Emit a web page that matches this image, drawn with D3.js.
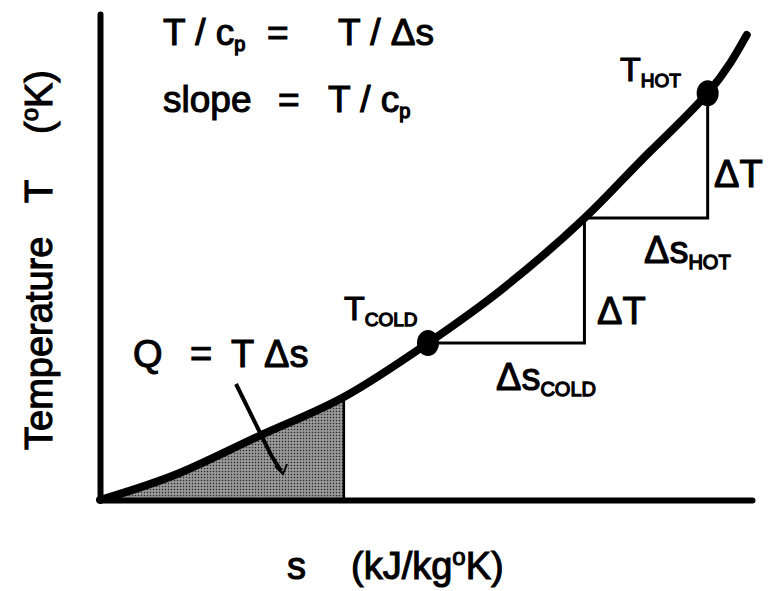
<!DOCTYPE html>
<html>
<head>
<meta charset="utf-8">
<script src="https://cdn.jsdelivr.net/npm/d3@7"></script>
<style>
  body { margin: 0; background: #fff; }
  text { font-family: "Liberation Sans", Arial, sans-serif; fill: #000; stroke: #000; stroke-width: 1.1px; white-space: pre; }
</style>
</head>
<body>
<svg id="ts" width="770" height="591"></svg>
<script>
(function() {
  // curve (s, T in arbitrary units)
  var curveS = [0, 1.23, 2.51, 3.74, 5.03, 6.15, 7.43, 8.31, 9.32, 9.92];
  var curveT = [0, 0.56, 1.36, 2.12, 3.23, 4.32, 5.80, 7.00, 8.37, 9.57];

  var shadeEnd = 3.74;               // right edge of the shaded Q area
  var markS = [5.03, 9.32];          // T cold, T hot
  var markT = [3.23, 8.37];
  var stepS = 7.43, stepT = 5.80;    // corner where the two steps meet

  var svg = d3.select("#ts");

  var x = d3.scaleLinear().domain([0, 10]).range([100, 752]);
  var y = d3.scaleLinear().domain([0, 10]).range([500, 14]);

  var pts = curveS.map(function(s, i) { return [s, curveT[i]]; });

  var line = d3.line()
    .x(function(d) { return x(d[0]); })
    .y(function(d) { return y(d[1]); })
    .curve(d3.curveNatural);

  var area = d3.area()
    .x(function(d) { return x(d[0]); })
    .y0(y(0))
    .y1(function(d) { return y(d[1]); })
    .curve(d3.curveNatural);

  // stipple pattern for the shaded area
  var defs = svg.append("defs");
  var pat = defs.append("pattern").attr("id", "stip")
    .attr("width", 3).attr("height", 3).attr("patternUnits", "userSpaceOnUse");
  pat.append("rect").attr("width", 3).attr("height", 3).attr("fill", "#848484");
  pat.append("rect").attr("width", 1).attr("height", 1).attr("fill", "#2a2a2a");
  pat.append("rect").attr("x", 1.5).attr("y", 1.5).attr("width", 1).attr("height", 1).attr("fill", "#d8d8d8");

  defs.append("clipPath").attr("id", "shadeClip")
    .append("rect")
      .attr("x", x(0)).attr("y", 0)
      .attr("width", x(shadeEnd) - x(0)).attr("height", y(0));

  svg.append("path")
    .datum(pts)
    .attr("d", area)
    .attr("clip-path", "url(#shadeClip)")
    .attr("fill", "url(#stip)");

  // right edge of the shaded area
  svg.append("line")
    .attr("x1", x(shadeEnd)).attr("x2", x(shadeEnd))
    .attr("y1", y(0)).attr("y2", y(2.12))
    .attr("stroke", "#000").attr("stroke-width", 2.5);

  // axes, no ticks
  svg.append("g")
    .attr("transform", "translate(0," + y(0) + ")")
    .call(d3.axisBottom(x).ticks(0).tickSizeOuter(0))
    .call(function(g) { g.select(".domain").attr("stroke-width", 6).attr("stroke-linecap", "round"); });
  svg.append("g")
    .attr("transform", "translate(" + x(0) + ",0)")
    .call(d3.axisLeft(y).ticks(0).tickSizeOuter(0))
    .call(function(g) { g.select(".domain").attr("stroke-width", 6).attr("stroke-linecap", "round"); });

  // step lines
  var steps = [
    [[markS[0], markT[0]], [stepS, markT[0]], [stepS, stepT]],
    [[stepS, stepT], [markS[1], stepT], [markS[1], markT[1]]]
  ];
  svg.selectAll(".step")
    .data(steps)
    .join("path")
      .attr("class", "step")
      .attr("d", d3.line().x(function(d) { return x(d[0]); }).y(function(d) { return y(d[1]); }))
      .attr("fill", "none")
      .attr("stroke", "#000")
      .attr("stroke-width", 3);

  // the curve
  svg.append("path")
    .datum(pts)
    .attr("d", line)
    .attr("fill", "none")
    .attr("stroke", "#000")
    .attr("stroke-width", 8)
    .attr("stroke-linecap", "round");

  // dots
  svg.selectAll(".dot")
    .data(markS)
    .join("ellipse")
      .attr("class", "dot")
      .attr("cx", function(d) { return x(d); })
      .attr("cy", function(d, i) { return y(markT[i]); })
      .attr("rx", 11).attr("ry", 13)
      .attr("fill", "#000");

  // leader line for Q
  svg.append("path")
    .attr("d", "M236,384 L271,455 L281,471")
    .attr("fill", "none").attr("stroke", "#000").attr("stroke-width", 4);
  svg.append("path")
    .attr("d", "M275,466 L283,474 L287,464")
    .attr("fill", "none").attr("stroke", "#000").attr("stroke-width", 2);

  // labels
  function label(px, py, main, sub, size, subSize) {
    var t = svg.append("text").attr("x", px).attr("y", py)
      .style("font-size", size + "px");
    t.append("tspan").text(main);
    if (sub) t.append("tspan").attr("dy", 6).style("font-size", subSize + "px").style("stroke-width", "1.3px").text(sub);
    return t;
  }

  var t1 = svg.append("text").attr("y", 45).style("font-size", "37px");
  t1.append("tspan").attr("x", 163).text("T / c");
  t1.append("tspan").attr("dy", 6).style("font-size", "20px").style("stroke-width", "1.3px").text("p");
  t1.append("tspan").attr("x", 267).attr("dy", -6).text("=");
  t1.append("tspan").attr("x", 338).text("T / \u0394s");

  var t2 = svg.append("text").attr("y", 112).style("font-size", "37px");
  t2.append("tspan").attr("x", 163).text("slope");
  t2.append("tspan").attr("x", 278).text("=");
  t2.append("tspan").attr("x", 328).text("T / c");
  t2.append("tspan").attr("dy", 6).style("font-size", "20px").style("stroke-width", "1.3px").text("p");

  label(620, 81, "T", "HOT", 34, 19);
  label(344, 320, "T", "COLD", 34, 19);
  label(714, 187, "\u0394T", null, 38);
  label(597, 324, "\u0394T", null, 38);
  label(644, 263, "\u0394s", "HOT", 38, 20);
  label(496, 390, "\u0394s", "COLD", 38, 20);

  var q = svg.append("text").attr("y", 367).style("font-size", "38px");
  q.append("tspan").attr("x", 133).text("Q");
  q.append("tspan").attr("x", 190).text("=");
  q.append("tspan").attr("x", 231).text("T \u0394s");

  var xl = svg.append("text").attr("y", 579).style("font-size", "38px");
  xl.append("tspan").attr("x", 287).text("s");
  xl.append("tspan").attr("x", 351).text("(kJ/kg");
  xl.append("tspan").attr("dy", -14).style("font-size", "24px").text("o");
  xl.append("tspan").attr("dy", 14).text("K)");

  // y label, three pieces rotated
  function ylab(py, txt) {
    return svg.append("text")
      .attr("transform", "translate(52," + py + ") rotate(-90)")
      .style("font-size", "38px")
      .text(txt);
  }
  ylab(450, "Temperature");
  ylab(203, "T");
  var yk = ylab(134, "(");
  yk.append("tspan").attr("dy", -14).style("font-size", "24px").text("o");
  yk.append("tspan").attr("dy", 14).text("K)");
})();
</script>
</body>
</html>
